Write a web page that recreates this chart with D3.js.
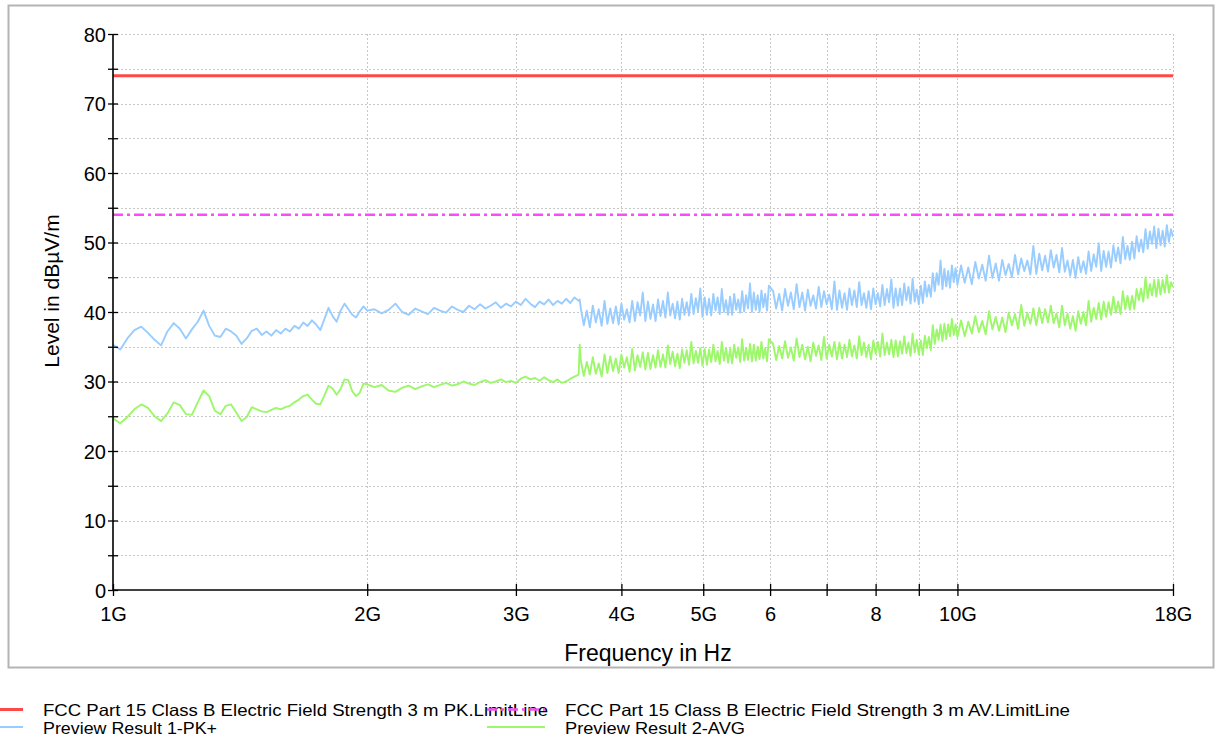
<!DOCTYPE html>
<html><head><meta charset="utf-8">
<script src="https://cdn.jsdelivr.net/npm/d3@7"></script>
<style>
body{margin:0;background:#fff;}
svg{display:block;font-family:"Liberation Sans",Arial,Helvetica,sans-serif;}
</style>
</head><body>
<svg id="chart" width="1217" height="743"></svg>
<script>
// ---- data (frequency in GHz, level in dBµV/m) ----
const freqGHz = [
1.00,1.02,1.04,1.06,1.08,1.10,1.12,1.14,1.16,1.18,1.20,1.22,1.24,1.26,1.28,1.30,1.32,1.34,1.36,1.38,1.40,1.42,1.44,1.46,1.48,1.50,
1.52,1.54,1.56,1.58,1.60,1.62,1.64,1.66,1.68,1.70,1.72,1.74,1.76,1.78,1.80,1.82,1.84,1.86,1.88,1.90,1.92,1.94,1.96,1.98,2.00,
2.04,2.08,2.12,2.16,2.20,2.24,2.28,2.32,2.36,2.40,2.44,2.48,2.52,2.56,2.60,2.64,2.68,2.72,2.76,2.80,2.84,2.88,2.92,2.96,3.00,
3.04,3.08,3.12,3.16,3.20,3.24,3.28,3.32,3.36,3.40,3.44,3.48,3.52,3.56,3.57,
3.58,3.61,3.64,3.67,3.70,3.73,3.76,3.79,3.82,3.85,3.88,3.91,3.94,3.97,4.00,4.03,4.06,4.09,4.12,4.15,
4.18,4.21,4.24,4.27,4.30,4.33,4.36,4.39,4.42,4.45,4.48,4.51,4.54,4.57,4.60,4.63,4.66,4.69,4.72,4.75,
4.78,4.81,4.84,4.87,4.90,4.93,4.96,4.99,5.02,5.05,5.08,5.11,5.14,5.17,5.20,5.23,5.26,5.29,5.32,5.35,
5.38,5.41,5.44,5.47,5.50,5.53,5.56,5.59,5.62,5.65,5.68,5.71,5.74,5.77,5.80,5.83,5.86,5.89,5.92,5.95,5.98,
6.05,6.10,6.15,6.20,6.25,6.30,6.35,6.40,6.45,6.50,6.55,6.60,6.65,6.70,6.75,6.80,6.85,6.90,6.95,7.00,
7.05,7.10,7.15,7.20,7.25,7.30,7.35,7.40,7.45,7.50,7.55,7.60,7.65,7.70,7.75,7.80,7.85,7.90,7.95,8.00,
8.05,8.10,8.15,8.20,8.25,8.30,8.35,8.40,8.45,8.50,8.55,8.60,8.65,8.70,8.75,8.80,8.85,8.90,8.95,9.00,
9.05,9.10,9.15,9.20,9.25,9.30,9.35,9.40,9.45,9.50,9.55,9.60,9.65,9.70,9.75,9.80,9.85,9.90,9.95,10.00,
10.1,10.2,10.3,10.4,10.5,10.6,10.7,10.8,10.9,11.0,11.1,11.2,11.3,11.4,11.5,11.6,11.7,11.8,11.9,12.0,
12.1,12.2,12.3,12.4,12.5,12.6,12.7,12.8,12.9,13.0,13.1,13.2,13.3,13.4,13.5,13.6,13.7,13.8,13.9,14.0,
14.1,14.2,14.3,14.4,14.5,14.6,14.7,14.8,14.9,15.0,15.1,15.2,15.3,15.4,15.5,15.6,15.7,15.8,15.9,16.0,
16.1,16.2,16.3,16.4,16.5,16.6,16.7,16.8,16.9,17.0,17.1,17.2,17.3,17.4,17.5,17.6,17.7,17.8,17.9,18.0
];
const peakValues = [
35.3,34.6,36.2,37.4,37.9,37.0,36.0,35.2,37.2,38.4,37.6,36.2,37.5,38.6,40.2,38.0,36.6,36.4,37.6,37.2,36.6,35.4,36.2,37.3,37.6,36.7,
37.2,36.6,37.4,36.9,37.6,37.2,38.0,37.6,38.5,38.0,38.8,38.2,37.4,39.0,40.6,39.4,38.6,40.2,41.2,40.4,39.6,39.2,40.1,40.8,40.2,
40.4,39.8,40.3,41.2,40.0,39.6,40.5,40.1,39.7,40.6,40.2,39.9,40.8,40.3,40.0,40.9,40.4,41.1,40.5,40.9,41.4,40.6,41.2,40.8,41.5,
41.0,41.9,41.2,40.7,41.5,41.1,41.8,41.0,41.6,41.2,41.9,41.3,42.1,41.6,41.8,
40.6,38.1,40.2,37.8,40.9,38.5,40.4,38.0,41.6,38.3,40.5,38.4,40.8,38.2,41.2,38.9,40.4,38.5,41.6,38.7,
41.4,39.5,42.8,38.7,41.5,39.0,41.1,38.7,41.8,39.4,41.6,39.2,42.8,39.5,41.2,39.1,41.5,38.9,41.9,39.6,
41.4,39.5,42.6,39.7,42.0,40.1,43.4,39.3,42.1,39.6,41.9,39.5,42.6,40.2,42.1,39.7,43.3,40.0,41.7,39.6,
42.2,39.6,42.6,40.3,41.8,39.9,43.0,40.1,42.4,40.5,44.1,40.0,42.8,40.3,42.4,40.0,43.1,40.7,42.6,40.2,43.8,
43.0,40.5,42.6,40.2,43.3,40.9,42.8,40.4,44.0,40.7,42.8,40.2,43.2,40.9,42.4,40.5,43.6,40.7,43.0,41.1,
42.5,40.4,44.4,40.3,43.1,40.6,42.7,40.3,43.4,41.0,43.1,40.7,44.3,41.0,42.7,40.6,43.0,40.4,43.4,41.1,
42.7,40.8,43.9,41.0,43.3,41.4,44.7,40.6,43.4,40.9,43.4,41.0,44.1,41.7,43.6,41.2,44.8,41.5,43.2,41.1,
43.8,41.3,44.4,42.2,43.9,42.2,45.6,43.0,45.6,43.9,47.4,43.3,46.2,43.7,45.9,43.5,46.7,44.3,46.3,43.9,
46.7,44.2,46.4,44.0,47.2,44.8,46.8,44.5,48.1,44.9,47.0,44.5,47.5,45.3,46.9,45.0,48.2,45.4,47.7,45.9,
47.4,45.4,49.5,45.5,48.4,46.0,48.1,45.8,48.9,46.4,48.2,45.7,49.2,45.8,47.4,45.2,47.5,44.9,47.9,45.7,
47.3,45.5,48.7,45.9,48.3,46.5,49.9,45.9,48.8,46.5,48.7,46.4,49.6,47.3,49.3,47.0,50.8,47.6,49.5,47.5,
50.1,47.7,50.9,48.7,50.4,48.6,51.9,49.1,51.6,49.8,52.3,49.2,52.0,49.6,51.7,49.4,52.5,50.1,51.9,50.8
];
const avgValues = [
24.7,24.0,24.9,26.0,26.7,26.2,25.0,24.3,25.4,27.0,26.6,25.3,25.2,27.0,28.7,27.9,25.8,25.3,26.5,26.7,25.5,24.3,24.9,26.3,26.0,25.7,
25.6,25.9,26.2,26.0,26.3,26.5,27.0,27.4,27.9,28.1,27.4,26.8,26.7,28.0,29.4,29.0,28.1,28.9,30.3,30.2,28.6,27.9,28.4,29.7,29.6,
29.2,29.5,28.7,28.5,29.1,29.4,28.9,29.3,29.6,29.2,29.5,29.8,29.4,29.6,30.0,29.7,29.5,29.9,30.2,29.8,30.0,30.3,29.9,30.1,29.8,
30.4,30.7,30.3,30.5,30.1,30.6,30.2,29.9,30.3,29.8,30.0,30.4,30.7,31.0,35.3,
33.1,30.8,32.8,31.0,33.5,31.1,32.6,30.7,33.9,31.2,33.6,31.5,33.3,31.2,33.9,32.0,33.5,31.4,34.7,31.6,
33.8,32.1,34.2,31.7,34.1,31.8,33.8,32.0,34.5,32.1,33.9,32.0,35.2,32.5,34.3,32.2,34.0,31.9,34.6,32.7,
34.5,32.4,35.7,32.6,34.4,32.7,34.8,32.3,34.7,32.4,34.6,32.8,35.3,32.9,34.4,32.5,35.7,33.0,34.8,32.7,
34.7,32.6,35.3,33.4,34.9,32.8,36.1,33.0,34.8,33.1,35.4,32.9,35.3,33.0,35.0,33.2,35.7,33.3,34.8,32.9,36.1,
35.4,33.1,35.1,33.3,35.8,33.4,34.9,33.0,36.2,33.5,35.3,33.2,35.0,32.9,35.6,33.7,35.2,33.1,36.4,33.3,
35.3,33.6,35.7,33.2,35.6,33.3,35.3,33.5,36.0,33.6,35.2,33.3,36.5,33.8,35.6,33.5,35.3,33.2,35.9,34.0,
35.7,33.6,36.9,33.8,35.6,33.9,36.0,33.5,35.9,33.6,35.8,34.0,36.5,34.1,35.6,33.7,36.9,34.2,36.0,33.9,
35.9,33.8,36.6,34.8,36.4,34.5,38.1,35.4,37.5,36.0,38.2,35.8,38.3,36.1,38.2,36.5,39.0,36.7,38.2,36.4,
38.8,36.5,38.6,36.9,39.4,37.1,38.7,36.8,40.1,37.5,39.3,37.3,39.2,37.1,39.9,38.1,39.7,37.6,41.0,38.0,
39.9,38.3,40.5,38.1,40.6,38.4,40.4,38.5,40.9,38.4,39.8,37.8,40.9,38.1,39.8,37.6,39.4,37.3,40.1,38.3,
40.0,38.1,41.6,38.6,40.6,39.0,41.3,38.9,41.5,39.3,41.4,39.6,42.2,39.9,41.5,39.7,43.0,40.4,42.3,40.3,
42.3,40.4,43.3,41.7,43.4,41.5,45.0,42.0,44.0,42.4,44.6,42.2,44.7,42.5,44.6,42.8,45.3,42.8,44.3,43.6
];
const peakLimit = 74;   // FCC PK limit
const avgLimit = 54;    // FCC AV limit
const yMajorTicks = [0,10,20,30,40,50,60,70,80];
const yMinorTicks = [5,15,25,35,45,55,65,75];
const xTickValues = [1,2,3,4,5,6,7,8,9,10,18];
const xTickLabels = ["1G","2G","3G","4G","5G","6","","8","","10G","18G"];
const legendLabels = [
  "FCC Part 15 Class B Electric Field Strength 3 m PK.LimitLine",
  "FCC Part 15 Class B Electric Field Strength 3 m AV.LimitLine",
  "Preview Result 1-PK+",
  "Preview Result 2-AVG"
];
const colors = {pk:"#ff4848", av:"#f84cf8", peak:"#99ccff", avg:"#9cf76a"};

// ---- drawing ----
const svg = d3.select("#chart");
const L = 113, R = 1173, T = 34, B = 590;
const x = d3.scaleLog().domain([1,18]).range([L,R]);
const y = d3.scaleLinear().domain([0,80]).range([B,T]);

// outer frame
svg.append("rect").attr("x",8.5).attr("y",5.5).attr("width",1205).attr("height",662)
  .attr("fill","#fff").attr("stroke","#b4b4b4").attr("stroke-width",2);

// grid
const grid = svg.append("g").attr("stroke","#c8c8c8").attr("stroke-width",1).attr("stroke-dasharray","2,2");
yMajorTicks.concat(yMinorTicks).filter(v=>v>0).forEach(v=>{
  grid.append("line").attr("x1",L).attr("x2",R).attr("y1",Math.round(y(v))+0.5).attr("y2",Math.round(y(v))+0.5);
});
xTickValues.filter(v=>v>1).forEach(v=>{
  grid.append("line").attr("x1",Math.round(x(v))+0.5).attr("x2",Math.round(x(v))+0.5).attr("y1",T).attr("y2",B);
});

// clip
svg.append("clipPath").attr("id","plotclip").append("rect").attr("x",L).attr("y",T-2).attr("width",R-L).attr("height",B-T+2);
const plot = svg.append("g").attr("clip-path","url(#plotclip)");

const rows = freqGHz.map((f,i)=>({f, pk:peakValues[i], av:avgValues[i]})).filter(d=>d.pk!=null && d.av!=null);
const linePk = d3.line().x(d=>x(d.f)).y(d=>y(d.pk));
const lineAv = d3.line().x(d=>x(d.f)).y(d=>y(d.av));
plot.append("path").datum(rows).attr("d",linePk).attr("fill","none").attr("stroke",colors.peak).attr("stroke-width",1.9).attr("stroke-linejoin","round");
plot.append("path").datum(rows).attr("d",lineAv).attr("fill","none").attr("stroke",colors.avg).attr("stroke-width",1.9).attr("stroke-linejoin","round");

// limit lines
const limLine = d3.line().x(d=>x(d[0])).y(d=>y(d[1]));
plot.append("path").datum([[1,peakLimit],[18,peakLimit]]).attr("d",limLine).attr("stroke",colors.pk).attr("stroke-width",3).attr("fill","none");
plot.append("path").datum([[1,avgLimit],[18,avgLimit]]).attr("d",limLine).attr("stroke",colors.av).attr("stroke-width",2.5)
  .attr("stroke-dasharray","10,4,3,4").attr("fill","none");

// axes
const yAxis = d3.axisLeft(y).tickValues(yMajorTicks.concat(yMinorTicks)).tickSize(5).tickPadding(2)
  .tickFormat(v=> yMajorTicks.includes(v) ? String(v) : "");
const gy = svg.append("g").attr("transform",`translate(${L},0)`).call(yAxis);
gy.select(".domain").remove();
gy.selectAll(".tick line").attr("x1",-5).attr("x2",5).attr("stroke","#000").attr("stroke-width",1.3);
gy.selectAll(".tick text").attr("font-size",20).attr("font-family","Liberation Sans, Arial, sans-serif").attr("fill","#000").attr("dy","0.36em");

const xAxis = d3.axisBottom(x).tickValues(xTickValues).tickSize(6).tickPadding(11)
  .tickFormat((v,i)=>xTickLabels[i]);
const gx = svg.append("g").attr("transform",`translate(0,${B})`).call(xAxis);
gx.select(".domain").remove();
gx.selectAll(".tick line").attr("y1",-6).attr("y2",6).attr("stroke","#000").attr("stroke-width",1.3);
gx.selectAll(".tick text").attr("font-size",20).attr("font-family","Liberation Sans, Arial, sans-serif").attr("fill","#000");

svg.append("line").attr("x1",L).attr("x2",L).attr("y1",T).attr("y2",B).attr("stroke","#000").attr("stroke-width",1.6);
svg.append("line").attr("x1",L).attr("x2",R).attr("y1",B).attr("y2",B).attr("stroke","#000").attr("stroke-width",1.6);

// axis titles
svg.append("text").attr("x",648).attr("y",661).attr("text-anchor","middle").attr("font-size",23).text("Frequency in Hz");
svg.append("text").attr("transform","translate(59,291) rotate(-90)").attr("text-anchor","middle").attr("font-size",21).text("Level in dBµV/m");

// legend
const leg = svg.append("g").attr("font-size",16.5);
const legItems = [
  {x:43, row:0, label:legendLabels[0], color:colors.pk, w:3, dash:null, len:505},
  {x:565, row:0, label:legendLabels[1], color:colors.av, w:2.5, dash:"10,4,3,4", len:505},
  {x:43, row:1, label:legendLabels[2], color:colors.peak, w:2, dash:null, len:174},
  {x:565, row:1, label:legendLabels[3], color:colors.avg, w:2, dash:null, len:180}
];
legItems.forEach(it=>{
  const ly = 709 + it.row*18;
  leg.append("text").attr("x",it.x).attr("y",ly+7).text(it.label).attr("fill","#000")
    .attr("textLength",it.len).attr("lengthAdjust","spacingAndGlyphs");
});
legItems.forEach(it=>{
  const ly = 709.5 + it.row*17.5;
  const s = leg.append("line").attr("x1",it.x-78).attr("x2",it.x-20).attr("y1",ly).attr("y2",ly)
    .attr("stroke",it.color).attr("stroke-width",it.w);
  if(it.dash) s.attr("stroke-dasharray",it.dash);
});
</script>
</body></html>
